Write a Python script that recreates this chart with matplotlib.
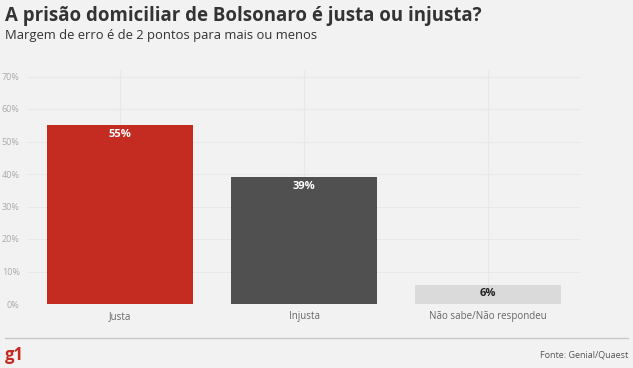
import matplotlib
matplotlib.use('Agg')
import matplotlib.pyplot as plt
from matplotlib.lines import Line2D

categories = ['Justa', 'Injusta', 'Não sabe/Não respondeu']
values = [55, 39, 6]
bar_colors = ['#c42b21', '#505050', '#dadada']
label_colors = ['white', 'white', '#222222']
yticks = [0, 10, 20, 30, 40, 50, 60, 70]

plt.rcParams['font.family'] = ['Open Sans', 'DejaVu Sans']
bg = '#f2f2f2'

fig = plt.figure(figsize=(6.33, 3.68), dpi=100, facecolor=bg)
ax = fig.add_axes([28/633, 1 - 304/368, 552/633, (304 - 70)/368])
ax.set_facecolor(bg)

x = list(range(len(categories)))
ax.bar(x, values, width=0.79, color=bar_colors, zorder=3)
for i, v in enumerate(values):
    ax.text(i, v - 1.1, '%d%%' % v, ha='center', va='top', fontsize=8,
            fontweight='bold', color=label_colors[i], zorder=4)

ax.set_xlim(-0.5, 2.5)
ax.set_ylim(0, 72)
ax.set_yticks(yticks)
ax.set_yticklabels(['%d%%' % t for t in yticks])
ax.set_xticks(x)
ax.set_xticklabels(categories)
ax.tick_params(axis='y', labelsize=6.5, colors='#aaaaaa', length=0, pad=6)
ax.tick_params(axis='x', labelsize=7, colors='#666666', length=0, pad=5)
ax.grid(True, color='#e8e8e8', linewidth=0.8, zorder=0)
for s in ax.spines.values():
    s.set_visible(False)

fig.text(5/633, 1 - 16/368, 'A prisão domiciliar de Bolsonaro é justa ou injusta?',
         fontsize=13.4, fontweight='bold', color='#333333', va='center', ha='left')
fig.text(5/633, 1 - 35/368, 'Margem de erro é de 2 pontos para mais ou menos',
         fontsize=9.4, color='#333333', va='center', ha='left')

fig.add_artist(Line2D([5/633, 628/633], [1 - 338/368, 1 - 338/368],
                      color='#c8c8c8', linewidth=1, transform=fig.transFigure))
fig.text(5/633, 1 - 355/368, 'g1', fontsize=12, fontweight='bold', color='#c42b21',
         va='center', ha='left')
fig.text(628/633, 1 - 355/368, 'Fonte: Genial/Quaest', fontsize=6.5, color='#555555',
         va='center', ha='right')

fig.savefig('out.png', dpi=100, facecolor=bg)
